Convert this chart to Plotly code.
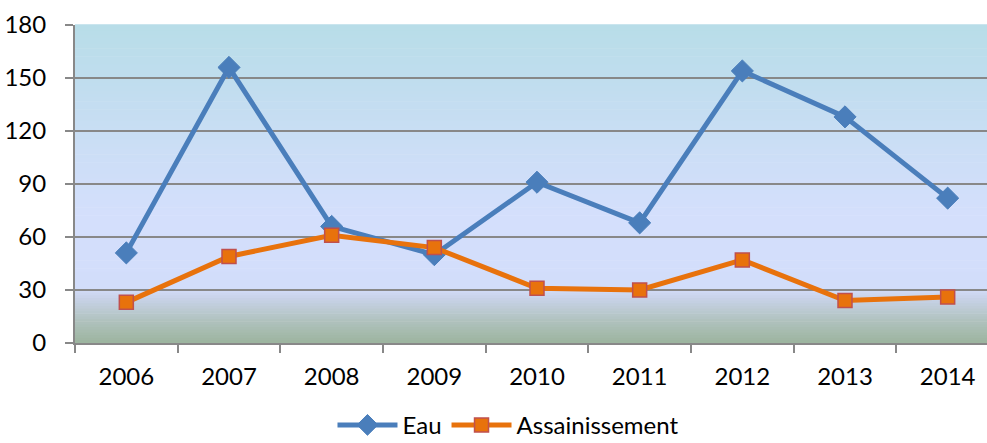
import plotly.graph_objects as go

years = ["2006", "2007", "2008", "2009", "2010", "2011", "2012", "2013", "2014"]
eau = [51, 156, 66, 50, 91, 68, 154, 128, 82]
assainissement = [23, 49, 61, 54, 31, 30, 47, 24, 26]
y_ticks = [0, 30, 60, 90, 120, 150, 180]

FONT = "Lato"

# gradient stops (fraction from bottom of plot area, rgb)
stops = [
    (0.00, (156, 180, 158)),
    (0.07, (176, 194, 190)),
    (0.14, (200, 210, 232)),
    (0.17, (210, 221, 250)),
    (0.40, (212, 223, 252)),
    (0.60, (204, 222, 246)),
    (0.80, (193, 221, 239)),
    (1.00, (184, 221, 232)),
]

def color_at(f):
    for (a, ca), (b, cb) in zip(stops[:-1], stops[1:]):
        if a <= f <= b:
            t = (f - a) / (b - a) if b > a else 0
            c = [round(ca[i] + (cb[i] - ca[i]) * t) for i in range(3)]
            return f"rgb({c[0]},{c[1]},{c[2]})"
    c = stops[-1][1]
    return f"rgb({c[0]},{c[1]},{c[2]})"

N = 120
shapes = []
for i in range(N):
    f0 = i / N
    f1 = (i + 1) / N
    shapes.append(dict(type="rect", xref="x domain", yref="y domain",
                       x0=0, x1=1, y0=f0, y1=f1 + 0.002,
                       fillcolor=color_at((f0 + f1) / 2),
                       line=dict(width=0), layer="below"))

fig = go.Figure()
fig.add_trace(go.Scatter(
    x=years, y=eau, name="Eau", mode="lines+markers",
    line=dict(color="#4A7EBB", width=5),
    marker=dict(symbol="diamond", size=17, color="#4A7EBB",
                line=dict(color="#4A7EBB", width=1)),
))
fig.add_trace(go.Scatter(
    x=years, y=assainissement, name="Assainissement", mode="lines+markers",
    line=dict(color="#E8720C", width=5),
    marker=dict(symbol="square", size=14, color="#E8720C",
                line=dict(color="#C0504D", width=1.5)),
))

fig.update_layout(
    width=999, height=443,
    margin=dict(l=75, r=0, t=25, b=100, autoexpand=False),
    paper_bgcolor="white", plot_bgcolor="rgba(0,0,0,0)",
    font=dict(family=FONT, size=24, color="#000000"),
    shapes=shapes,
    showlegend=True,
    legend=dict(orientation="h", xref="container", yref="container",
                x=0.5085, xanchor="center", y=0.04, yanchor="middle",
                font=dict(family=FONT, size=24), itemwidth=60,
                bgcolor="rgba(0,0,0,0)"),
    xaxis=dict(type="category", range=[-0.5, len(years) - 0.5],
               tickson="boundaries", ticks="outside",
               ticklen=8, tickwidth=2, tickcolor="#888888",
               showline=True, linecolor="#888888", linewidth=2,
               showgrid=False, ticklabelstandoff=11, automargin=False),
    yaxis=dict(range=[0, 180], tickvals=y_ticks, ticks="outside",
               ticklen=8, tickwidth=2, tickcolor="#888888",
               showline=True, linecolor="#888888", linewidth=2,
               showgrid=True, gridcolor="#888888", gridwidth=2,
               zeroline=False, ticklabelstandoff=14, automargin=False),
)

fig.write_html("out.html", config={"displayModeBar": False},
               post_script="document.body.style.margin='0';document.body.style.overflow='hidden';document.documentElement.style.overflow='hidden';")
